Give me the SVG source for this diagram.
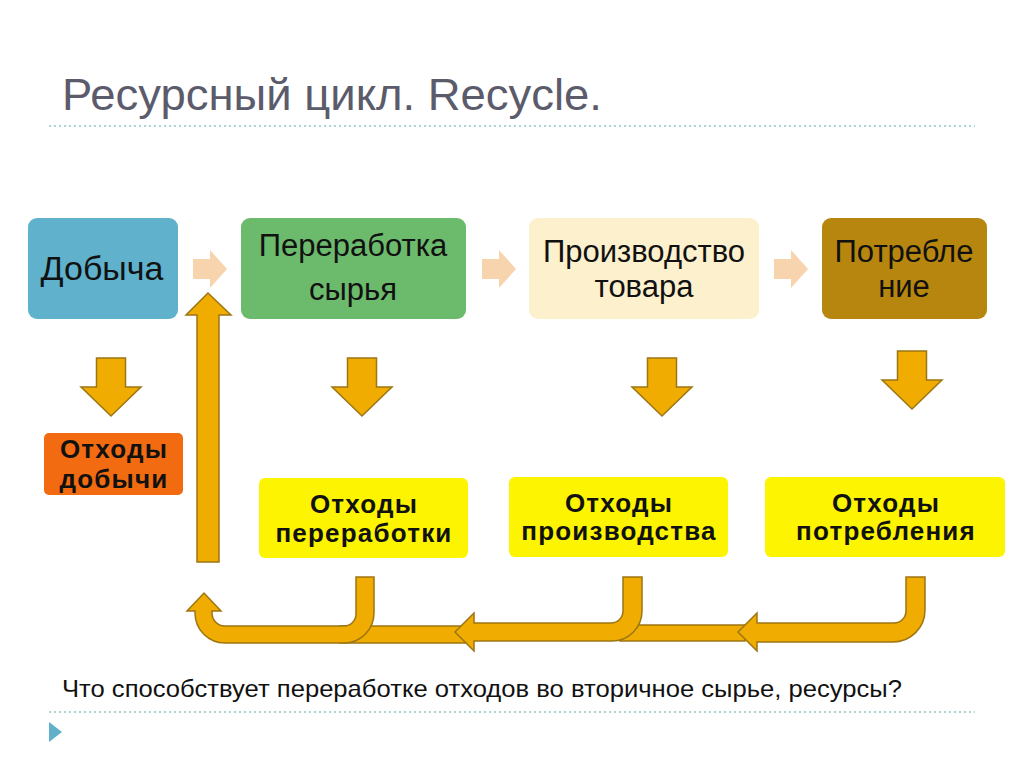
<svg xmlns="http://www.w3.org/2000/svg" width="1024" height="767" viewBox="0 0 1024 767">
<style>
.t{font-family:"Liberation Sans",Arial,sans-serif;fill:#111;text-anchor:middle}
.box{font-size:31px}
.w{font-size:26px;font-weight:bold;letter-spacing:1.2px}
.ga{fill:#f0ac00;stroke:#9c7612;stroke-width:1.5;stroke-linejoin:miter}
.la{fill:#f8d4ae}
.dl{stroke:#93c6c6;stroke-width:1.5;stroke-dasharray:2 3}
</style>
<defs>
<path id="down" d="M-14.5,0 H14.5 V29 H30 L0,58 L-30,29 H-14.5 Z"/>
<path id="light" d="M0,9 H17 V0 L34,19 L17,38 V29 H0 Z"/>
</defs>
<rect width="1024" height="767" fill="#fff"/>
<text x="62" y="110" font-family="Liberation Sans, Arial, sans-serif" font-size="45" fill="#5b5b6b" textLength="540" lengthAdjust="spacingAndGlyphs">Ресурсный цикл. Recycle.</text>
<line class="dl" x1="49" y1="126" x2="975" y2="126"/>

<g id="connectors">
<use href="#light" class="la" x="193" y="250"/>
<use href="#light" class="la" x="482" y="250"/>
<use href="#light" class="la" x="774" y="250"/>
<use href="#down" class="ga" x="111" y="358"/>
<use href="#down" class="ga" x="362" y="358"/>
<use href="#down" class="ga" x="662" y="358"/>
<use href="#down" class="ga" x="912" y="351"/>
<path class="ga" d="M197,562 L219,562 L219,315 L231,315 L208,293 L186,315 L197,315 Z"/>
<rect class="ga" x="340" y="626" width="130" height="17"/>
<rect class="ga" x="620" y="625" width="125" height="16"/>
<path class="ga" d="M356,577 L374,577 L374,613 A30,30 0 0 1 344,643 L225,643 A30,30 0 0 1 195,613 L195,611 L187,611 L204,593 L221,611 L212,611 L212,613 A13,13 0 0 0 225,626 L344,626 A12,12 0 0 0 356,614 Z"/>
<path class="ga" d="M623,577 L642,577 L642,611 A30,30 0 0 1 612,641 L474,641 L474,651 L455,632 L474,613 L474,623 L611,623 A12,12 0 0 0 623,611 Z"/>
<path class="ga" d="M906,577 L925,577 L925,610 A32,32 0 0 1 893,642 L757,642 L757,651 L738,632 L757,613 L757,623 L894,623 A12,12 0 0 0 906,611 Z"/>
</g>

<g id="n-dobycha">
<rect x="28" y="218" width="150" height="101" rx="9" fill="#5fb1cc"/>
<text class="t" font-size="34" x="102" y="280">Добыча</text>
</g>
<g id="n-pererabotka">
<rect x="241" y="218" width="225" height="101" rx="9" fill="#6cba6c"/>
<text class="t box" x="353" y="256">Переработка</text>
<text class="t box" x="353" y="300">сырья</text>
</g>
<g id="n-proizvodstvo">
<rect x="529" y="218" width="230" height="101" rx="9" fill="#fdf0cd"/>
<text class="t box" x="644" y="262">Производство</text>
<text class="t box" x="644" y="297">товара</text>
</g>
<g id="n-potreblenie">
<rect x="822" y="218" width="165" height="101" rx="9" fill="#b7860e"/>
<text class="t box" x="904" y="262">Потребле</text>
<text class="t box" x="904" y="297">ние</text>
</g>

<g id="w-dobychi">
<rect x="44" y="433" width="139" height="62" rx="5" fill="#f26b10"/>
<text class="t w" x="114" y="458">Отходы</text>
<text class="t w" x="114" y="488">добычи</text>
</g>
<g id="w-pererabotki">
<rect x="259" y="478" width="209" height="80" rx="6" fill="#fcf400"/>
<text class="t w" x="364" y="513">Отходы</text>
<text class="t w" x="364" y="542">переработки</text>
</g>
<g id="w-proizvodstva">
<rect x="509" y="477" width="219" height="80" rx="6" fill="#fcf400"/>
<text class="t w" x="619" y="512">Отходы</text>
<text class="t w" x="619" y="540">производства</text>
</g>
<g id="w-potrebleniya">
<rect x="765" y="477" width="240" height="80" rx="6" fill="#fcf400"/>
<text class="t w" x="886" y="512">Отходы</text>
<text class="t w" x="886" y="540">потребления</text>
</g>

<text x="62" y="697" font-family="Liberation Sans, Arial, sans-serif" font-size="24" fill="#111" textLength="840" lengthAdjust="spacingAndGlyphs">Что способствует переработке отходов во вторичное сырье, ресурсы?</text>
<line class="dl" x1="49" y1="712" x2="975" y2="712"/>
<path d="M49,722 L62,732 L49,742 Z" fill="#5fb0c8"/>
</svg>
